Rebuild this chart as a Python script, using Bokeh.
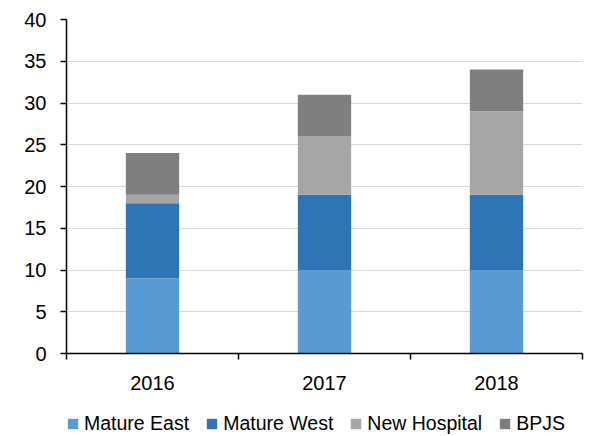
from bokeh.plotting import figure
from bokeh.layouts import column
from bokeh.models import Range1d, FixedTicker, Legend, LegendItem
from bokeh.embed import file_html
from bokeh.resources import INLINE

years = ["2016", "2017", "2018"]
mature_east = [9, 10, 10]
mature_west = [9, 9, 9]
new_hospital = [1, 7, 10]
bpjs = [5, 5, 5]
series_names = ["Mature East", "Mature West", "New Hospital", "BPJS"]
colors = ["#5B9BD5", "#2E75B6", "#A5A5A5", "#7F7F7F"]
y_ticks = [0, 5, 10, 15, 20, 25, 30, 35, 40]

FONT = "Liberation Sans"

xs = [i + 0.5 for i in range(len(years))]
data = dict(x=xs, me=mature_east, mw=mature_west, nh=new_hospital, bp=bpjs)
stack_cols = ["me", "mw", "nh", "bp"]

p = figure(frame_width=516, frame_height=334, x_range=Range1d(0, len(years)), y_range=Range1d(0, 40),
           output_backend="svg", toolbar_location=None,
           min_border_left=66, min_border_right=7, min_border_top=19, min_border_bottom=50)
p.outline_line_color = None

p.vbar_stack(stack_cols, x="x", width=0.31, color=colors, line_color=None, source=data)

# y axis
p.yaxis.ticker = FixedTicker(ticks=y_ticks)
p.yaxis.major_tick_out = 6
p.yaxis.major_tick_in = 0
p.yaxis.minor_tick_line_color = None
p.yaxis.axis_line_color = "#000000"
p.yaxis.axis_line_width = 1.5
p.yaxis.major_tick_line_width = 1.5
p.yaxis.major_label_text_font = FONT
p.yaxis.major_label_text_font_size = "20px"
p.yaxis.major_label_text_color = "#000000"
p.yaxis.major_label_standoff = 14

# x axis
p.xaxis.ticker = FixedTicker(ticks=xs, minor_ticks=list(range(len(years) + 1)))
p.xaxis.major_label_overrides = {x: y for x, y in zip(xs, years)}
p.xaxis.major_tick_line_color = None
p.xaxis.major_tick_out = 0
p.xaxis.major_tick_in = 0
p.xaxis.minor_tick_out = 6
p.xaxis.minor_tick_in = 0
p.xaxis.minor_tick_line_color = "#000000"
p.xaxis.minor_tick_line_width = 1.5
p.xaxis.axis_line_color = "#000000"
p.xaxis.axis_line_width = 1.5
p.xaxis.major_label_text_font = FONT
p.xaxis.major_label_text_font_size = "20px"
p.xaxis.major_label_text_color = "#000000"
p.xaxis.major_label_standoff = 16

p.xgrid.grid_line_color = None
p.ygrid.ticker = FixedTicker(ticks=y_ticks)
p.ygrid.grid_line_color = "#D9D9D9"
p.ygrid.grid_line_width = 1

# legend strip: same stacked bars, drawn outside its visible range, only feeding the legend
lg = figure(width=589, height=32, x_range=Range1d(0, len(years)), y_range=Range1d(1000, 1001),
            output_backend="svg", toolbar_location=None,
            x_axis_location=None, y_axis_location=None,
            min_border_left=0, min_border_right=0, min_border_top=0, min_border_bottom=0)
lg.outline_line_color = None
lg.grid.visible = False
lg_renderers = lg.vbar_stack(stack_cols, x="x", width=0.31, color=colors, line_color=None, source=data)

legend = Legend(items=[LegendItem(label=n, renderers=[r]) for n, r in zip(series_names, lg_renderers)],
                orientation="horizontal", location=(0, 0),
                label_text_font=FONT, label_text_font_size="19.5px", label_text_color="#000000",
                glyph_width=13, glyph_height=13, label_height=20, label_standoff=5, spacing=16,
                padding=0, margin=0, border_line_color=None, background_fill_alpha=0)
lg.add_layout(legend, "center")

layout = column(p, lg, spacing=0)
open("out.html", "w").write(file_html(layout, INLINE))
